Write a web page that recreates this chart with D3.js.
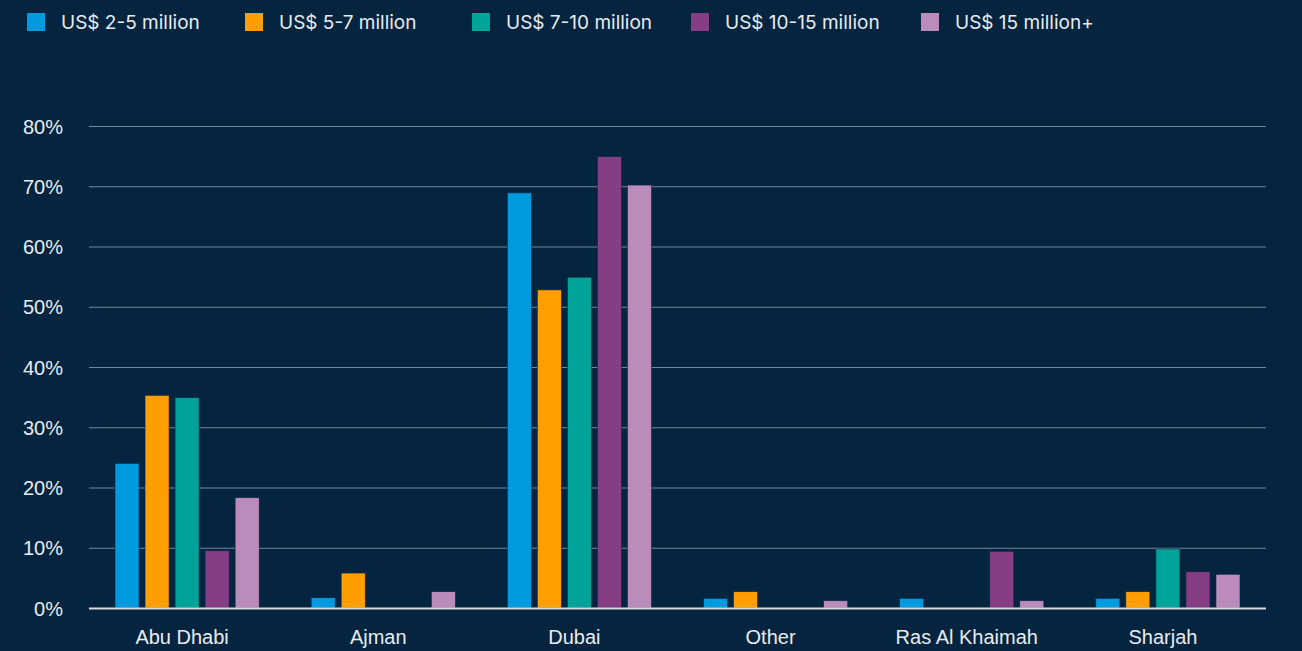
<!DOCTYPE html>
<html><head><meta charset="utf-8">
<script src="https://cdn.jsdelivr.net/npm/d3@7"></script>
<style>
html,body{margin:0;padding:0;background:#05243f;}
svg{display:block;font-family:Inter,"Noto Sans",sans-serif;}
</style></head>
<body>
<svg id="c" width="1302" height="651"></svg>
<script>
(function(){
const categories = ["Abu Dhabi","Ajman","Dubai","Other","Ras Al Khaimah","Sharjah"];
const seriesNames = ["US$ 2-5 million","US$ 5-7 million","US$ 7-10 million","US$ 10-15 million","US$ 15 million+"];
const colors = ["#009ade","#ff9e00","#00a39a","#853d83","#bb8cbb"];
const s2to5   = [24.0, 1.7, 68.9, 1.6, 1.6, 1.6];
const s5to7   = [35.3, 5.8, 52.8, 2.7, 0,   2.7];
const s7to10  = [34.9, 0,   54.9, 0,   0,   9.8];
const s10to15 = [9.5,  0,   74.9, 0,   9.4, 6.0];
const s15plus = [18.3, 2.7, 70.2, 1.2, 1.2, 5.6];
const yTicks = [0,10,20,30,40,50,60,70,80];
const seriesValues = [s2to5, s5to7, s7to10, s10to15, s15plus];

const svg = d3.select("#c");
const W = 1302, H = 651;
svg.append("rect").attr("width",W).attr("height",H).attr("fill","#05243f");

const mLeft = 89, mRight = 1266, mTop = 126, mBottom = 608;
const x0 = d3.scaleBand().domain(categories).range([mLeft,mRight]).paddingInner(0.265).paddingOuter(0.1325);
const x1 = d3.scaleBand().domain(d3.range(seriesNames.length)).range([0,x0.bandwidth()]).paddingInner(0.2);
const y = d3.scaleLinear().domain([0,80]).range([mBottom,mTop]);

// grid
const yAxis = d3.axisLeft(y).tickValues(yTicks).tickFormat(d=>d+"%").tickSize(-(mRight-mLeft)).tickPadding(26);
const gy = svg.append("g").attr("transform",`translate(${mLeft},0)`).call(yAxis);
gy.select(".domain").remove();
gy.selectAll(".tick line").attr("stroke","#8799ac").attr("stroke-width",1).attr("opacity",0.85);
gy.selectAll(".tick text").attr("fill","#e8ecf0").attr("font-size","20px").attr("dy","0.35em").attr("x",-26);
gy.selectAll(".tick").filter(d=>d===0).select("line").remove();

// bars
const g = svg.append("g");
categories.forEach((c,ci)=>{
  seriesValues.forEach((vals,si)=>{
    const v = vals[ci];
    if(!v) return;
    g.append("rect")
      .attr("x", x0(c)+x1(si))
      .attr("y", y(v))
      .attr("width", x1.bandwidth())
      .attr("height", y(0)-y(v))
      .attr("fill", colors[si])
      .attr("stroke","#0a2a48").attr("stroke-width",0.6);
  });
});

// baseline
svg.append("line").attr("x1",mLeft).attr("x2",mRight).attr("y1",mBottom+0.5).attr("y2",mBottom+0.5)
  .attr("stroke","#d9dcdf").attr("stroke-width",2);

// x axis labels
const xAxis = d3.axisBottom(x0).tickSize(0).tickPadding(22);
const gx = svg.append("g").attr("transform",`translate(-5,${mBottom})`).call(xAxis);
gx.select(".domain").remove();
gx.selectAll(".tick text").attr("fill","#e8ecf0").attr("font-size","20px");

// legend
const legX = [27, 245, 472, 691, 921];
const leg = svg.append("g");
seriesNames.forEach((n,i)=>{
  leg.append("rect").attr("x",legX[i]).attr("y",13).attr("width",18).attr("height",18).attr("fill",colors[i]);
  leg.append("text").attr("x",legX[i]+34).attr("y",29).attr("fill","#e8ecf0").attr("font-size","19px").text(n);
});
})();
</script>
</body></html>
